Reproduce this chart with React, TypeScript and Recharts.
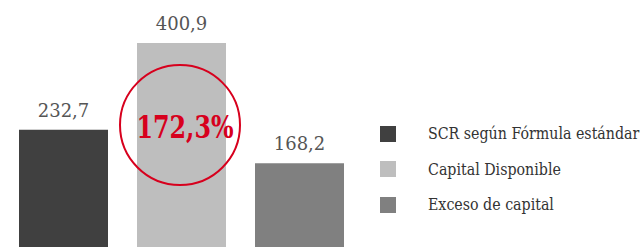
import React from "react";
import { BarChart, Bar, Cell, XAxis, YAxis, LabelList, ReferenceDot } from "recharts";

const CATEGORIES = ["SCR según Fórmula estándar", "Capital Disponible", "Exceso de capital"];
const VALUES = [232.7, 400.9, 168.2];
const COLORS = ["#404040", "#bebebe", "#808080"];

// solvency ratio shown in the red circle
const RATIO_LABEL = "172,3%";
const RATIO_Y = 242; // vertical placement of the circle, in data units

const data = CATEGORIES.map((name, i) => ({ name, value: VALUES[i] }));

const fmt = (v: number) => v.toFixed(1).replace(".", ",");

const RatioBadge = (props: any) => {
  const { cx, cy } = props;
  if (cx == null || cy == null) return null;
  return (
    <g>
      <circle cx={cx - 1} cy={cy} r={60} fill="none" stroke="#d7001d" strokeWidth={2} />
      <text
        x={cx + 4}
        y={cy + 2}
        textAnchor="middle"
        dominantBaseline="central"
        fill="#d7001d"
        fontFamily="'DejaVu Serif Condensed', 'DejaVu Serif', serif"
        fontWeight="bold"
        fontSize={31}
        textLength={97}
        lengthAdjust="spacingAndGlyphs"
      >
        {RATIO_LABEL}
      </text>
    </g>
  );
};

export default function App() {
  return (
    <div style={{ position: "absolute", left: 0, top: 0, width: 640, height: 247, overflow: "hidden", background: "#fff" }}>
      <BarChart width={362} height={250} data={data} margin={{ top: 43, right: 4, left: 4, bottom: 0 }}>
        <XAxis dataKey="name" hide />
        <YAxis hide domain={[0, "dataMax"]} />
        <Bar dataKey="value" barSize={89} isAnimationActive={false}>
          {data.map((d, i) => (
            <Cell key={d.name} fill={COLORS[i]} />
          ))}
          <LabelList
            dataKey="value"
            position="top"
            offset={13}
            formatter={(v: any) => fmt(Number(v))}
            fill="#555"
            fontSize={18}
            fontFamily="'DejaVu Serif', serif"
          />
        </Bar>
        <ReferenceDot x={CATEGORIES[1]} y={RATIO_Y} r={60} shape={RatioBadge} ifOverflow="visible" />
      </BarChart>
      <div
        style={{
          position: "absolute",
          left: 380,
          top: 116,
          width: 280,
          fontFamily: "'DejaVu Serif Condensed', 'DejaVu Serif', serif",
        }}
      >
        {CATEGORIES.map((name, i) => (
          <div key={name} style={{ display: "flex", alignItems: "center", height: 35.5 }}>
            <span style={{ display: "inline-block", flexShrink: 0, width: 16, height: 16, background: COLORS[i] }} />
            <span style={{ marginLeft: 32, fontSize: 15.8, color: "#333", whiteSpace: "nowrap" }}>{name}</span>
          </div>
        ))}
      </div>
    </div>
  );
}
